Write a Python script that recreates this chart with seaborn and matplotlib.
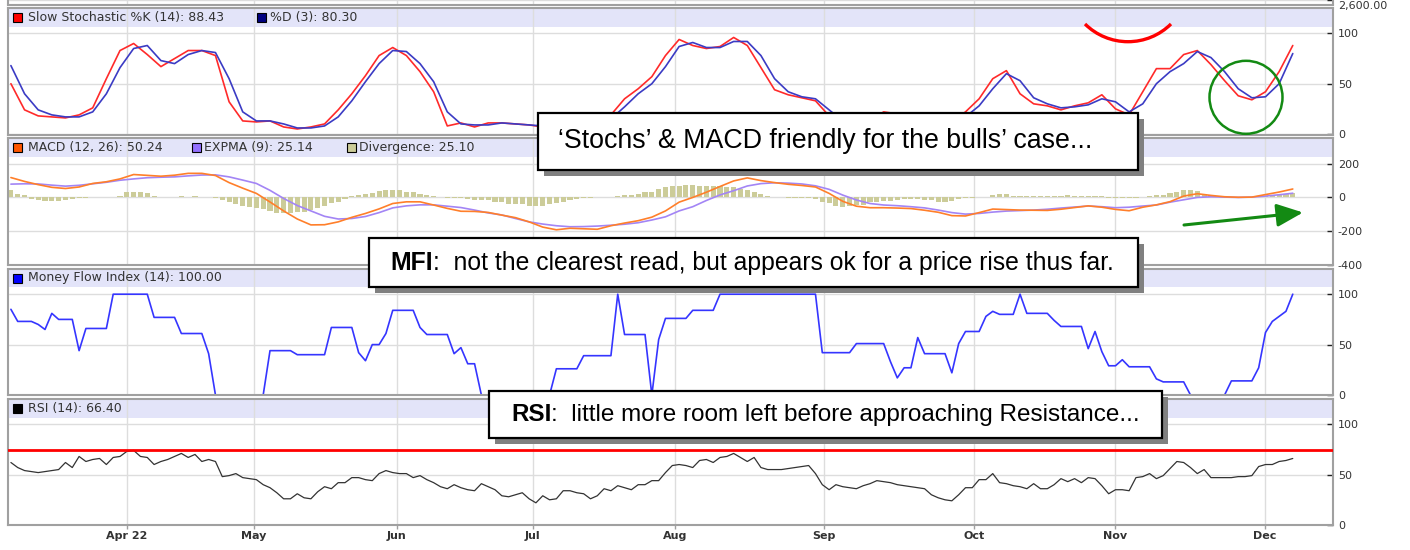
import numpy as np
import matplotlib
matplotlib.use("Agg")
import matplotlib.pyplot as plt
from matplotlib.patches import Rectangle, Arc, Circle
import seaborn as sns

# trading-day index for every bar, and every second day for the smoother lines
days = np.arange(189)
days2 = np.arange(0, 189, 2)

month_pos = [17, 35.6, 56.6, 76.5, 97.4, 119.2, 141.2, 162, 183.9]
month_labels = ["Apr 22", "May", "Jun", "Jul", "Aug", "Sep", "Oct", "Nov", "Dec"]

# slow stochastic, sampled every 2 days
stoch_k = [50, 24, 18, 17, 16, 19, 26, 55, 83, 90,
           79, 67, 75, 83, 83, 78, 32, 13, 12, 13,
           7, 5, 7, 10, 24, 40, 58, 78, 86, 78,
           62, 42, 8, 11, 7, 11, 11, 10, 9, 7,
           8, 9, 10, 12, 19, 35, 45, 57, 78, 94,
           88, 85, 87, 96, 88, 66, 44, 39, 36, 33,
           18, 10, 9, 14, 22, 20, 13, 9, 8, 12,
           22, 35, 55, 63, 40, 30, 28, 24, 28, 31,
           39, 25, 19, 42, 65, 65, 79, 83, 69, 53,
           38, 34, 42, 62, 88]
stoch_d = [68, 40, 24, 19, 17, 17, 22, 40, 66, 85,
           88, 73, 70, 79, 83, 81, 55, 22, 13, 13,
           10, 6, 6, 8, 17, 33, 52, 70, 83, 82,
           70, 52, 22, 10, 9, 9, 11, 10, 9, 8,
           8, 9, 10, 11, 15, 27, 40, 50, 67, 87,
           91, 86, 86, 92, 92, 78, 55, 42, 37, 35,
           24, 13, 9, 11, 18, 21, 16, 11, 9, 10,
           17, 28, 45, 60, 53, 36, 30, 26, 27, 29,
           35, 32, 22, 30, 50, 62, 70, 82, 76, 62,
           45, 36, 37, 50, 80]

# MACD and its signal, every 2 days
macd = [118, 95, 76, 60, 53, 62, 83, 93, 110, 136,
        131, 126, 132, 143, 143, 130, 88, 55, 24, -27,
        -80, -128, -163, -162, -145, -118, -95, -68, -36, -26,
        -26, -45, -65, -82, -83, -89, -105, -120, -145, -176,
        -192, -183, -186, -189, -168, -152, -138, -117, -80, -28,
        0, 31, 65, 98, 116, 100, 88, 78, 71, 62,
        24, -23, -52, -61, -61, -63, -66, -76, -88, -108,
        -110, -90, -69, -72, -75, -76, -77, -70, -60, -50,
        -58, -71, -79, -58, -44, -25, 8, 22, 12, 4,
        1, 2, 17, 32, 50]
expma = [79, 81, 80, 73, 67, 72, 81, 90, 102, 110,
         117, 120, 122, 128, 133, 134, 122, 103, 83, 42,
         -6, -48, -80, -112, -128, -125, -113, -90, -62, -50,
         -44, -44, -52, -60, -75, -92, -104, -125, -145, -158,
         -168, -174, -173, -170, -165, -159, -150, -134, -115, -80,
         -55, -18, 15, 40, 68, 82, 87, 85, 80, 69,
         48, 14, -15, -36, -45, -49, -55, -62, -75, -90,
         -99, -95, -87, -81, -78, -75, -70, -63, -57, -51,
         -55, -61, -58, -51, -45, -28, -14, 0, 4, 2,
         0, 2, 8, 16, 25]
divergence = [43, 18, 15, -12, -15, -20, -20, -20, -15, -12,
              -5, -3, 2, 3, 4, 5, 10, 30, 34, 32,
              26, 8, 5, 3, 5, 6, 5, 6, 5, 4,
              -5, -15, -26, -38, -51, -58, -62, -69, -80, -95,
              -95, -92, -89, -85, -75, -65, -50, -35, -26, -10,
              8, 15, 18, 28, 37, 42, 43, 42, 35, 30,
              22, 15, 10, 2, -3, -5, -3, -8, -16, -16,
              -18, -26, -30, -36, -38, -41, -48, -51, -48, -36,
              -33, -30, -16, -12, -5, -2, 2, 3, 5, 8,
              12, 14, 22, 30, 34, 50, 63, 65, 68, 72,
              73, 70, 68, 69, 66, 64, 60, 52, 46, 30,
              20, 10, 3, 2, -2, -3, -2, -3, -10, -26,
              -35, -52, -55, -52, -45, -42, -30, -26, -24, -20,
              -14, -12, -10, -12, -15, -18, -26, -25, -20, -8,
              -6, -3, 2, 5, 15, 20, 18, 10, 8, 7,
              8, 6, 8, 10, 10, 12, 10, 9, 10, 10,
              8, -3, -4, -3, -2, -3, 5, 10, 14, 15,
              28, 32, 43, 44, 40, 22, 15, 5, 2, -2,
              -3, 2, 3, 5, 10, 14, 17, 20, 25]

mfi = [85, 73, 73, 73, 70, 65, 81, 75, 75, 75,
       44, 66, 66, 66, 66, 100, 100, 100, 100, 100,
       100, 77, 77, 77, 77, 61, 61, 61, 61, 41,
       0, 0, 0, 0, 0, 0, 0, 0, 44, 44,
       44, 44, 40, 40, 40, 40, 40, 67, 67, 67,
       67, 42, 34, 50, 50, 61, 84, 84, 84, 84,
       67, 60, 60, 60, 60, 41, 47, 31, 31, 0,
       0, 0, 0, 0, 0, 0, 0, 0, 0, 0,
       26, 26, 26, 26, 39, 39, 39, 39, 39, 100,
       60, 60, 60, 60, 0, 55, 76, 76, 76, 76,
       84, 84, 84, 84, 100, 100, 100, 100, 100, 100,
       100, 100, 100, 100, 100, 100, 100, 100, 100, 42,
       42, 42, 42, 42, 51, 51, 51, 51, 51, 33,
       17, 27, 27, 57, 41, 41, 41, 41, 22, 51,
       63, 63, 63, 78, 83, 80, 80, 80, 100, 81,
       81, 81, 81, 74, 68, 68, 68, 68, 46, 63,
       43, 29, 29, 35, 28, 28, 28, 28, 16, 13,
       13, 13, 13, 0, 0, 0, 0, 0, 0, 14,
       14, 14, 14, 27, 62, 73, 78, 83, 100]

rsi = [62, 57, 54, 53, 52, 53, 54, 55, 62, 57,
       68, 63, 65, 66, 60, 67, 68, 73, 74, 68,
       67, 60, 63, 65, 68, 71, 67, 70, 63, 65,
       63, 48, 49, 51, 47, 46, 45, 40, 37, 32,
       26, 26, 31, 27, 26, 33, 38, 36, 42, 42,
       47, 47, 45, 44, 51, 54, 52, 51, 51, 47,
       49, 45, 42, 38, 36, 40, 37, 35, 34, 41,
       38, 35, 29, 28, 30, 32, 26, 22, 29, 25,
       26, 34, 34, 32, 31, 26, 29, 36, 34, 39,
       37, 35, 40, 40, 44, 44, 52, 59, 60, 59,
       57, 64, 65, 62, 67, 68, 71, 67, 63, 67,
       57, 55, 55, 55, 56, 57, 58, 59, 51, 40,
       35, 40, 38, 37, 36, 39, 41, 44, 43, 42,
       40, 39, 38, 37, 36, 30, 27, 25, 24, 30,
       37, 37, 45, 45, 51, 42, 41, 39, 38, 36,
       41, 36, 36, 40, 46, 43, 46, 42, 47, 46,
       39, 31, 35, 35, 34, 47, 48, 51, 46, 49,
       56, 63, 62, 57, 51, 55, 47, 47, 47, 47,
       48, 48, 49, 58, 60, 60, 63, 64, 66]
rsi_resistance = 74

assert len(stoch_k) == len(stoch_d) == len(macd) == len(expma) == len(days2)
assert len(divergence) == len(mfi) == len(rsi) == len(days)

W, H = 1410, 550
LEFT, RIGHT = 7.5, 1333
X_LO, X_HI = -0.5, 193.9
BAND = "#e3e4f9"
GRID = "#dddddd"
SPINE = "#a0a0a0"
TXT = "#333333"

sns.set_theme(style="white")
plt.rcParams["font.family"] = ["DejaVu Sans"]
plt.rcParams["axes.unicode_minus"] = False

fig = plt.figure(figsize=(W / 100, H / 100), dpi=100)


def panel(top, bottom):
    return fig.add_axes([LEFT / W, 1 - bottom / H, (RIGHT - LEFT) / W, (bottom - top) / H])


def style(ax, ylim, band_from, yticks, labels=None):
    ax.set(xlabel="", ylabel="")
    ax.set_xlim(X_LO, X_HI)
    ax.set_ylim(*ylim)
    if band_from is not None:
        ax.axhspan(band_from, ylim[1], color=BAND, lw=0, zorder=0)
    ax.set_xticks(month_pos)
    ax.set_yticks(yticks, labels=labels if labels is not None else [str(t) for t in yticks])
    ax.yaxis.tick_right()
    ax.grid(True, color=GRID, lw=1)
    ax.set_axisbelow(True)
    for s in ax.spines.values():
        s.set_color(SPINE)
        s.set_linewidth(1.5)
    ax.tick_params(axis="y", right=True, left=False, direction="in", length=4, width=1,
                   color="#222222", labelsize=8, labelcolor=TXT, pad=3.5)
    ax.tick_params(axis="x", bottom=False, labelbottom=False)


# sliver of the price panel above
ax0 = panel(-40, 4.5)
style(ax0, (2596, 2640), None, [2600], [""])

# slow stochastic
ax1 = panel(8.3, 135)
sns.lineplot(x=days2, y=stoch_k, color="#ff2a2a", lw=1.2, estimator=None, ax=ax1, zorder=3)
sns.lineplot(x=days2, y=stoch_d, color="#3b3bc4", lw=1.2, estimator=None, ax=ax1, zorder=3)
style(ax1, (-1, 125), 106.5, [0, 50, 100])

# MACD
ax2 = panel(138.3, 265)
sns.barplot(x=days, y=divergence, native_scale=True, width=0.75, color="#cccc99",
            saturation=1, errorbar=None, linewidth=0, ax=ax2, zorder=2)
sns.lineplot(x=days2, y=expma, color="#a385f5", lw=1.2, estimator=None, ax=ax2, zorder=3)
sns.lineplot(x=days2, y=macd, color="#ff7f2a", lw=1.2, estimator=None, ax=ax2, zorder=3)
style(ax2, (-401, 351), 240, [-400, -200, 0, 200])

# money flow index
ax3 = panel(269, 395)
sns.lineplot(x=days, y=mfi, color="#3535ff", lw=1.2, estimator=None, ax=ax3, zorder=2)
style(ax3, (0, 125), 107, [0, 50, 100])

# RSI
ax4 = panel(399, 525)
sns.lineplot(x=days, y=rsi, color="#333333", lw=0.9, estimator=None, ax=ax4, zorder=3)
ax4.axhline(rsi_resistance, color="#ff0000", lw=2, zorder=3)
style(ax4, (0, 125), 106, [0, 50, 100])
ax4.set_xticks(month_pos, labels=month_labels)
ax4.tick_params(axis="x", bottom=True, labelbottom=True, length=3, width=1,
                color=SPINE, labelsize=8, labelcolor=TXT, pad=1.5)
for lab in ax4.get_xticklabels():
    lab.set_fontweight("bold")

# overlay in pixel units for legends and notes
ov = fig.add_axes([0, 0, 1, 1], zorder=10)
ov.set_xlim(0, W)
ov.set_ylim(H, 0)
ov.axis("off")

ov.text(1338, 5.5, "2,600.00", va="center", ha="left", fontsize=8, color=TXT)

headers = [
    (17, [(13, "#ff0000", 28, "Slow Stochastic %K (14): 88.43"),
          (257, "#000080", 270, "%D (3): 80.30")]),
    (147.5, [(13, "#ff5500", 28, "MACD (12, 26): 50.24"),
             (192, "#9370ff", 204, "EXPMA (9): 25.14"),
             (347, "#cccc99", 359, "Divergence: 25.10")]),
    (278, [(13, "#0000ff", 28, "Money Flow Index (14): 100.00")]),
    (408.5, [(13, "#000000", 28, "RSI (14): 66.40")]),
]
for cy, items in headers:
    for sx, col, tx, label in items:
        ov.add_patch(Rectangle((sx, cy - 4.5), 9, 9, fc=col, ec="black", lw=0.8))
        ov.text(tx, cy, label, va="center", ha="left", fontsize=9, color=TXT)


def note(left, top, right, bottom, tx, ty, bold, rest, size):
    ov.add_patch(Rectangle((left + 6, top + 6), right - left, bottom - top, fc="#808080", ec="none"))
    ov.add_patch(Rectangle((left, top), right - left, bottom - top, fc="white", ec="black", lw=1.6))
    if bold:
        t = ov.text(tx, ty, bold, fontsize=size, fontweight="bold", family="Liberation Sans",
                    va="center", ha="left", color="black")
        ov.annotate(rest, xy=(1, 0.5), xycoords=t, va="center", ha="left",
                    fontsize=size, family="Liberation Sans", color="black")
    else:
        ov.text(tx, ty, rest, fontsize=size, family="Liberation Sans",
                va="center", ha="left", color="black")


note(537.5, 113.3, 1138, 170, 558, 141, "", "\u2018Stochs\u2019 & MACD friendly for the bulls\u2019 case...", 19.3)
note(369, 238, 1138, 286.5, 390, 263, "MFI", ":  not the clearest read, but appears ok for a price rise thus far.", 17.8)
note(489, 391, 1161.7, 438, 511, 414.5, "RSI", ":  little more room left before approaching Resistance...", 17.5)

green = "#138a13"
ov.add_patch(Arc((1128, -19.3), 122, 122, theta1=45.2, theta2=134.8, color="#ff0000", lw=2.4))
ov.add_patch(Circle((1246, 97.3), 36.5, fill=False, ec=green, lw=1.8))
ov.annotate("", xy=(1303, 212.5), xytext=(1184, 225),
            arrowprops=dict(arrowstyle="-|>,head_length=0.8,head_width=0.35", color=green,
                            lw=2.2, shrinkA=0, shrinkB=0, mutation_scale=20))

fig.savefig("out.png", dpi=100)
